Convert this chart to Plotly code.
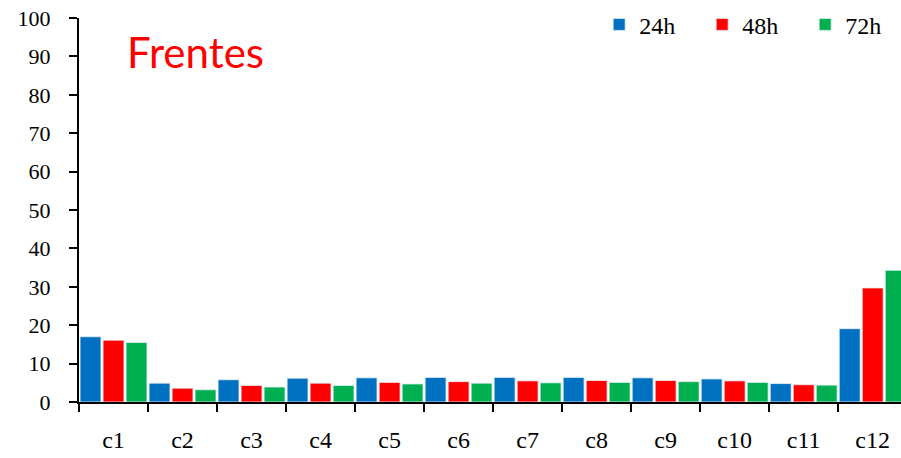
import plotly.graph_objects as go

categories = ["c1", "c2", "c3", "c4", "c5", "c6", "c7", "c8", "c9", "c10", "c11", "c12"]
series_names = ["24h", "48h", "72h"]
v24 = [17.0, 4.9, 5.8, 6.2, 6.3, 6.4, 6.4, 6.4, 6.3, 6.0, 4.8, 19.1]
v48 = [16.1, 3.6, 4.3, 4.9, 5.1, 5.3, 5.5, 5.6, 5.6, 5.5, 4.5, 29.7]
v72 = [15.5, 3.2, 3.9, 4.3, 4.7, 4.9, 5.0, 5.1, 5.3, 5.1, 4.4, 34.3]
y_ticks = [0, 10, 20, 30, 40, 50, 60, 70, 80, 90, 100]
colors = ["#0070C0", "#FF0000", "#00B050"]

serif = "Liberation Serif"

fig = go.Figure()
for name, vals, col in zip(series_names, [v24, v48, v72], colors):
    fig.add_trace(go.Bar(
        x=categories, y=vals, name=name,
        marker=dict(color=col, line=dict(color="#E8F0F8", width=0.8)),
    ))

fig.update_layout(
    width=901, height=458,
    margin=dict(l=79, r=0, t=18, b=56, autoexpand=False),
    paper_bgcolor="white", plot_bgcolor="white",
    barmode="group", bargap=0.0, bargroupgap=0.09,
    showlegend=True,
    legend=dict(
        orientation="h", xref="container", yref="container",
        x=0.665, xanchor="left", y=0.995, yanchor="top",
        font=dict(family=serif, size=24, color="black"),
        bgcolor="rgba(0,0,0,0)", entrywidth=58, itemwidth=30,
        traceorder="normal",
    ),
    font=dict(family=serif, color="black"),
)

fig.update_yaxes(
    range=[0, 100], tickvals=y_ticks, ticktext=[str(t) for t in y_ticks],
    showgrid=False, zeroline=False, automargin=False,
    showline=True, linecolor="black", linewidth=2,
    ticks="outside", ticklen=8, tickwidth=2, tickcolor="black",
    tickfont=dict(family=serif, size=22, color="black"),
    ticklabelstandoff=14,
)
fig.update_xaxes(
    range=[-0.5, 11.41],
    showgrid=False, zeroline=False, automargin=False,
    showline=True, linecolor="black", linewidth=2,
    ticks="outside", ticklen=8, tickwidth=2, tickcolor="black",
    tickson="boundaries",
    tickfont=dict(family=serif, size=24, color="black"),
    ticklabelstandoff=15,
)

fig.add_annotation(
    text="Frentes", xref="paper", yref="paper", x=0.142, y=0.911,
    xanchor="center", yanchor="middle", showarrow=False,
    font=dict(family="Lato", size=42, color="#FF0000"),
)

fig.write_html(
    "out.html",
    config={"displayModeBar": False},
    post_script="document.body.style.margin='0';document.body.style.overflow='hidden';",
)
